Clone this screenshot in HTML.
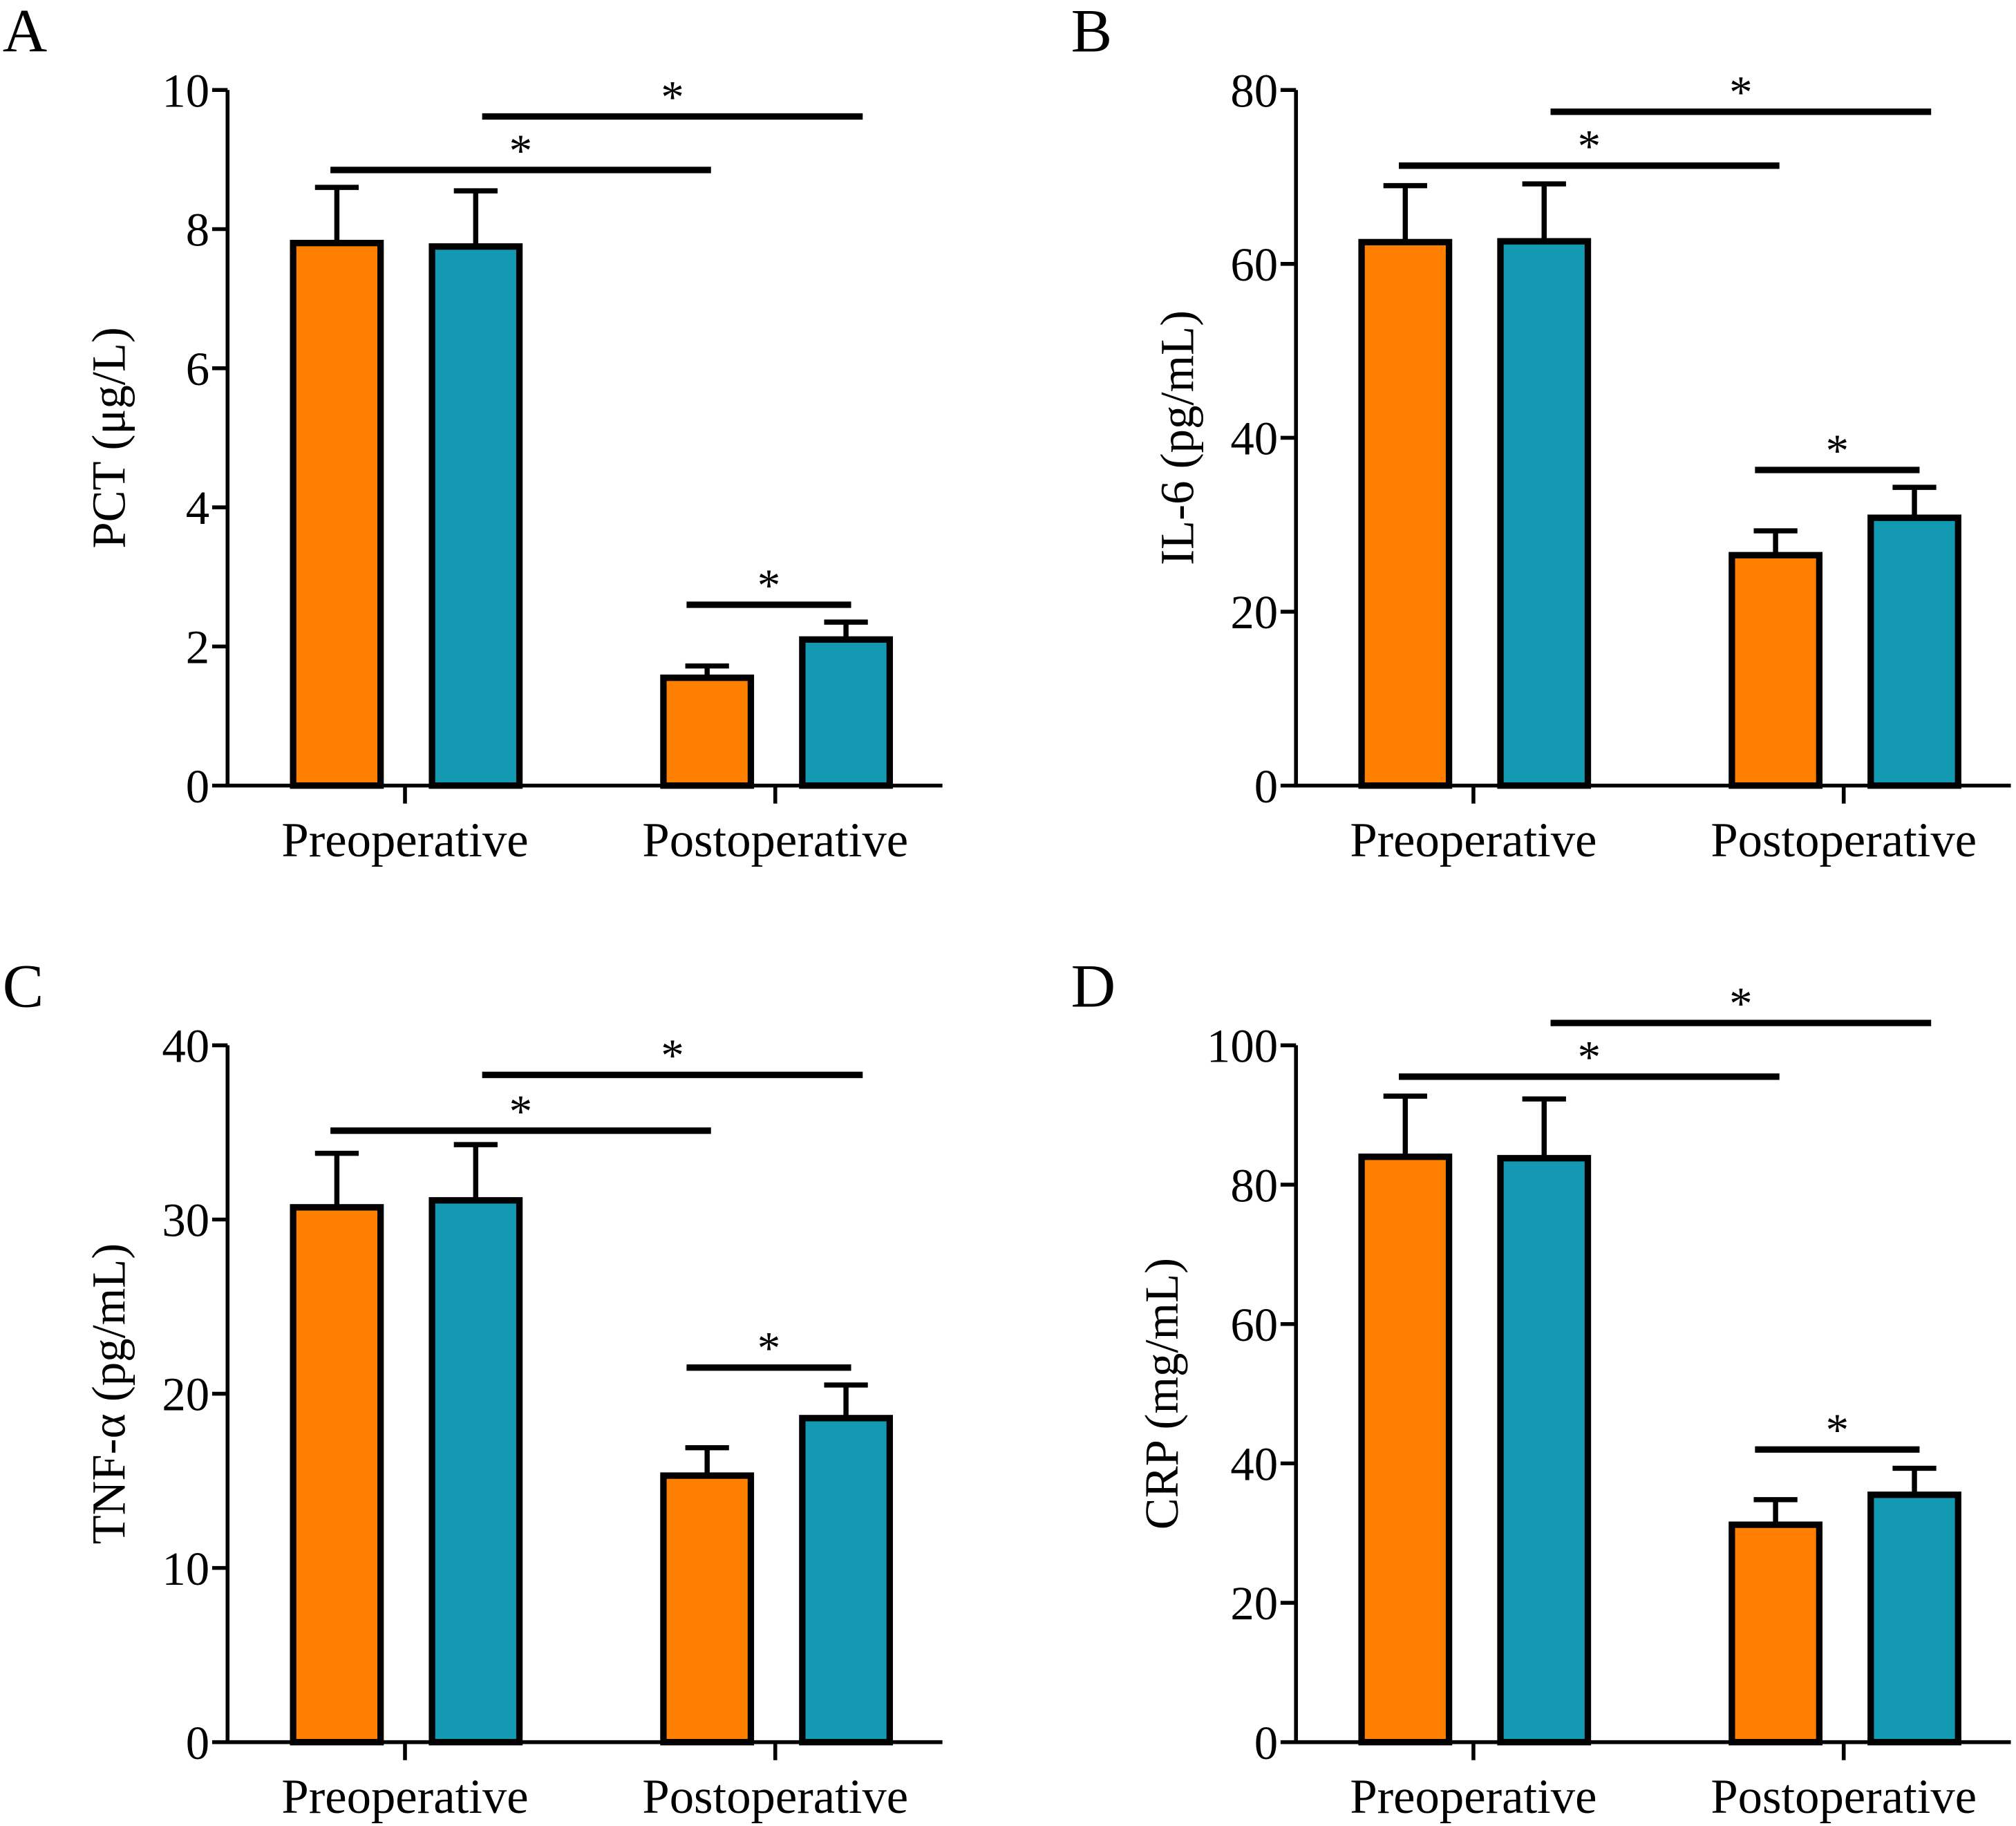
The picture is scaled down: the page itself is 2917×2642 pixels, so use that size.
<!DOCTYPE html>
<html><head><meta charset="utf-8"><style>
html,body{margin:0;padding:0;background:#fff;}
svg{display:block;font-family:"Liberation Serif",serif;}
</style></head><body>
<svg id="fig" xmlns="http://www.w3.org/2000/svg" width="2917" height="2642" viewBox="0 0 1568 1420.2" preserveAspectRatio="none"></svg>
<script>
const categories = ["Preoperative", "Postoperative"];
const panelLetters = ["A", "B", "C", "D"];
const yTitles = ["PCT (μg/L)", "IL-6 (pg/mL)", "TNF-α (pg/mL)", "CRP (mg/mL)"];
const yMax = [10, 80, 40, 100];
const yStep = [2, 20, 10, 20];
const orangeValues = [[7.8, 1.55], [62.5, 26.5], [30.7, 15.3], [84, 31.2]];
const tealValues = [[7.75, 2.1], [62.6, 30.8], [31.1, 18.6], [83.8, 35.5]];
const orangeErr = [[0.8, 0.17], [6.5, 2.8], [3.1, 1.6], [8.7, 3.6]];
const tealErr = [[0.8, 0.25], [6.6, 3.5], [3.2, 1.9], [8.5, 3.8]];
const sigLevels = [[8.85, 9.62, 2.6], [71.3, 77.5, 36.3], [35.1, 38.3, 21.5], [95.5, 103.2, 42]];

const svg = document.getElementById('fig');
const NS = "http://www.w3.org/2000/svg";
function mk(tag, attrs, parent){const e=document.createElementNS(NS,tag);for(const k in attrs)e.setAttribute(k,attrs[k]);(parent||svg).appendChild(e);return e;}

const origins = [[177, 611, 70], [1008, 611, 70], [177, 1355, 813], [1008, 1355, 813]];
const ORANGE = "#FF7F00", TEAL = "#1399B2";

for (let p = 0; p < 4; p++) {
  const [ox, oy, ytop] = origins[p];
  const g = mk('g', {});
  
  
  const y = v => oy - (v / yMax[p]) * (oy - ytop);
  const groupCenter = [ox + 138, ox + 426];
  const barX = (gi, s) => groupCenter[gi] + (s === 0 ? -87 : 21);
  const bw = 68;

  const letter = mk('text', {x: ox - 175, y: ytop - 30, 'font-size': 48}, g);
  letter.textContent = panelLetters[p];
  
  

  for (let gi = 0; gi < 2; gi++) {
    for (let s = 0; s < 2; s++) {
      const v = s === 0 ? orangeValues[p][gi] : tealValues[p][gi];
      const e = s === 0 ? orangeErr[p][gi] : tealErr[p][gi];
      const x = barX(gi, s);
      const cx = x + bw / 2;
      const eb = mk('path', {d: `M${cx},${y(v)} V${y(v + e)} M${cx - 17},${y(v + e)} H${cx + 17}`, stroke: '#000', 'stroke-width': 4, fill: 'none'}, g);
      
      
      const r = mk('rect', {x: x, y: y(v), width: bw, height: oy - y(v), fill: s === 0 ? ORANGE : TEAL, stroke: '#000', 'stroke-width': 5}, g);
      
      
    }
  }

  const ax = mk('path', {d: `M${ox},${ytop} V${oy} H${ox + 556}`, stroke: '#000', 'stroke-width': 3, fill: 'none'}, g);
  
  
  for (let v = 0; v <= yMax[p] + 1e-9; v += yStep[p]) {
    const t = mk('line', {x1: ox - 12, x2: ox, y1: y(v), y2: y(v), stroke: '#000', 'stroke-width': 3}, g);
    
    
    const tl = mk('text', {x: ox - 14, y: y(v) + 13, 'font-size': 37, 'text-anchor': 'end'}, g);
    tl.textContent = v;
    
    
  }
  for (let gi = 0; gi < 2; gi++) {
    const t = mk('line', {x1: groupCenter[gi], x2: groupCenter[gi], y1: oy, y2: oy + 14, stroke: '#000', 'stroke-width': 3}, g);
    
    
    const tl = mk('text', {x: groupCenter[gi], y: oy + 55, 'font-size': 38, 'text-anchor': 'middle'}, g);
    tl.textContent = categories[gi];
    
    
  }
  const titleOff = yMax[p] >= 100 ? 92 : 80;
  const yt = mk('text', {x: 0, y: 0, 'font-size': 37, 'text-anchor': 'middle', transform: `translate(${ox - titleOff},${(ytop + oy) / 2}) rotate(-90)`}, g);
  yt.textContent = yTitles[p];
  
  

  const sig = [
    [barX(0, 0) + 29, barX(1, 0) + 37],
    [barX(0, 1) + 39, barX(1, 1) + 47],
    [barX(1, 0) + 18, barX(1, 1) + 38]
  ];
  for (let i = 0; i < 3; i++) {
    const yy = y(sigLevels[p][i]);
    const l = mk('line', {x1: sig[i][0], x2: sig[i][1], y1: yy, y2: yy, stroke: '#000', 'stroke-width': 5}, g);
    
    
    const st = mk('text', {x: (sig[i][0] + sig[i][1]) / 2, y: yy - 3, 'font-size': 36, 'text-anchor': 'middle'}, g);
    st.textContent = '*';
    
    
  }
}
</script>
</body></html>
